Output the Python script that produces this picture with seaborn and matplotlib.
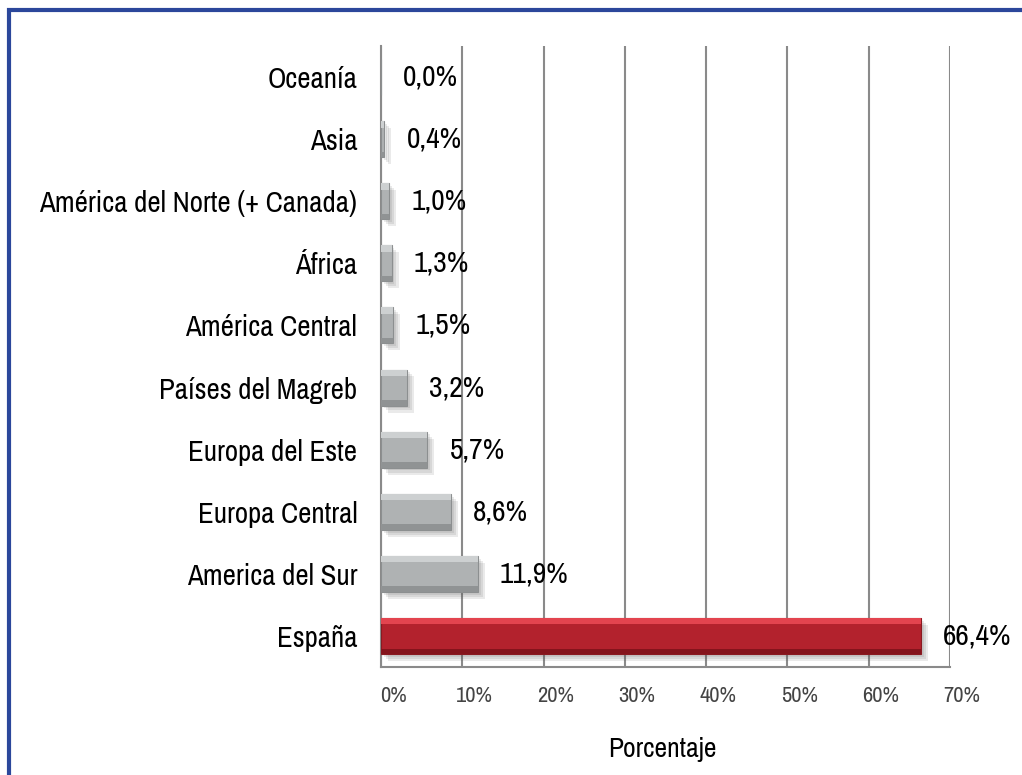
import matplotlib
matplotlib.use("Agg")
import matplotlib.pyplot as plt
import matplotlib.patheffects as pe
import matplotlib.transforms as mtransforms
from matplotlib.patches import Rectangle
from matplotlib import font_manager
import seaborn as sns
import pandas as pd

categories = ["Oceanía", "Asia", "América del Norte (+ Canada)", "África",
              "América Central", "Países del Magreb", "Europa del Este",
              "Europa Central", "America del Sur", "España"]
values = [0.0, 0.4, 1.0, 1.3, 1.5, 3.2, 5.7, 8.6, 11.9, 66.4]
value_labels = ["0,0%", "0,4%", "1,0%", "1,3%", "1,5%", "3,2%", "5,7%", "8,6%", "11,9%", "66,4%"]
xticks = [0, 10, 20, 30, 40, 50, 60, 70]
xtick_labels = ["0%", "10%", "20%", "30%", "40%", "50%", "60%", "70%"]
xlabel = "Porcentaje"

sns.set_style("white")
names = {f.name for f in font_manager.fontManager.ttflist}
fam = "Liberation Sans"
for cand in ["Liberation Sans Narrow", "Arial Narrow", "Archivo Narrow",
             "PT Sans Narrow", "Roboto Condensed", "Liberation Sans"]:
    if cand in names:
        fam = cand
        break
plt.rcParams["font.family"] = [fam, "DejaVu Sans"]

fig = plt.figure(figsize=(10.22, 7.75), dpi=100)
renderer = fig.canvas.get_renderer()


def fit_size(text, target_px, base=10.0):
    t = fig.text(0, 0, text, fontsize=base)
    w = t.get_window_extent(renderer=renderer).width
    t.remove()
    return base * target_px / w


ylab_size = fit_size("América del Norte (+ Canada)", 318)
val_size = fit_size("66,4%", 68)
xt_size = fit_size("10%", 37)
xl_size = fit_size("Porcentaje", 109)

df = pd.DataFrame({"region": categories, "pct": values})
gray = "#afb2b3"
red = "#b3222d"
palette = {c: (red if c == "España" else gray) for c in categories}
edges = ["#8a1a21" if c == "España" else "#8c8f90" for c in categories]
lights = ["#e3444f" if c == "España" else "#cdd0d1" for c in categories]
darks = ["#85141c" if c == "España" else "#909394" for c in categories]

ax = fig.add_axes([381 / 1022, 1 - 667 / 775, (950 - 381) / 1022, (667 - 46) / 775])

sns.barplot(data=df, y="region", x="pct", hue="region", palette=palette,
            order=categories, orient="h", width=0.58, legend=False, ax=ax,
            zorder=3, saturation=1)

shadow = [pe.SimplePatchShadow(offset=(o, -o), shadow_rgbFace="#555555", alpha=0.12)
          for o in (2, 3.5, 5)]
for p, ec, lc, dc in zip(ax.patches, edges, lights, darks):
    p.set_edgecolor(ec)
    p.set_linewidth(0.8)
    p.set_path_effects(shadow + [pe.Normal()])
    x0, y0 = p.get_x(), p.get_y()
    w, h = p.get_width(), p.get_height()
    if w > 0:
        ax.add_patch(Rectangle((x0, y0), w, h * 0.18, facecolor=lc,
                               edgecolor="none", zorder=4))
        ax.add_patch(Rectangle((x0, y0 + h * 0.85), w, h * 0.15, facecolor=dc,
                               edgecolor="none", zorder=4))

for i, (v, lab) in enumerate(zip(values, value_labels)):
    ax.annotate(lab, xy=(v, i), xytext=(16, 0), textcoords="offset points",
                va="center", ha="left", fontsize=val_size, color="black", zorder=6)

ax.set_xlim(0, 70)
ax.set_ylim(len(categories) - 0.5, -0.5)
ax.set_xticks(xticks)
ax.set_xticklabels(xtick_labels, fontsize=xt_size, color="#444444")
ax.tick_params(axis="y", labelsize=ylab_size, pad=17, length=0, labelcolor="black")
ax.tick_params(axis="x", pad=14, length=0)
offset = mtransforms.ScaledTranslation(12 / 100, 0, fig.dpi_scale_trans)
for t in ax.get_xticklabels():
    t.set_transform(t.get_transform() + offset)

ax.set_ylabel("")
ax.set_xlabel(xlabel, fontsize=xl_size, color="black")
ax.xaxis.label.set_va("center")
ax.xaxis.set_label_coords(0.4945, -(750 - 667) / 621)
ax.xaxis.grid(True, color="#8a8a8a", linewidth=1.5, zorder=0)
ax.set_axisbelow(True)
for s in ["top", "right"]:
    ax.spines[s].set_visible(False)
for s in ["left", "bottom"]:
    ax.spines[s].set_color("#8a8a8a")
    ax.spines[s].set_linewidth(1.5)

fig.patches.append(Rectangle((9 / 1022, -0.2), 1.3, 1.2 - 10 / 775,
                             transform=fig.transFigure, fill=False,
                             edgecolor="#2b479b", linewidth=3, zorder=10))

fig.savefig("out.png", dpi=100)
